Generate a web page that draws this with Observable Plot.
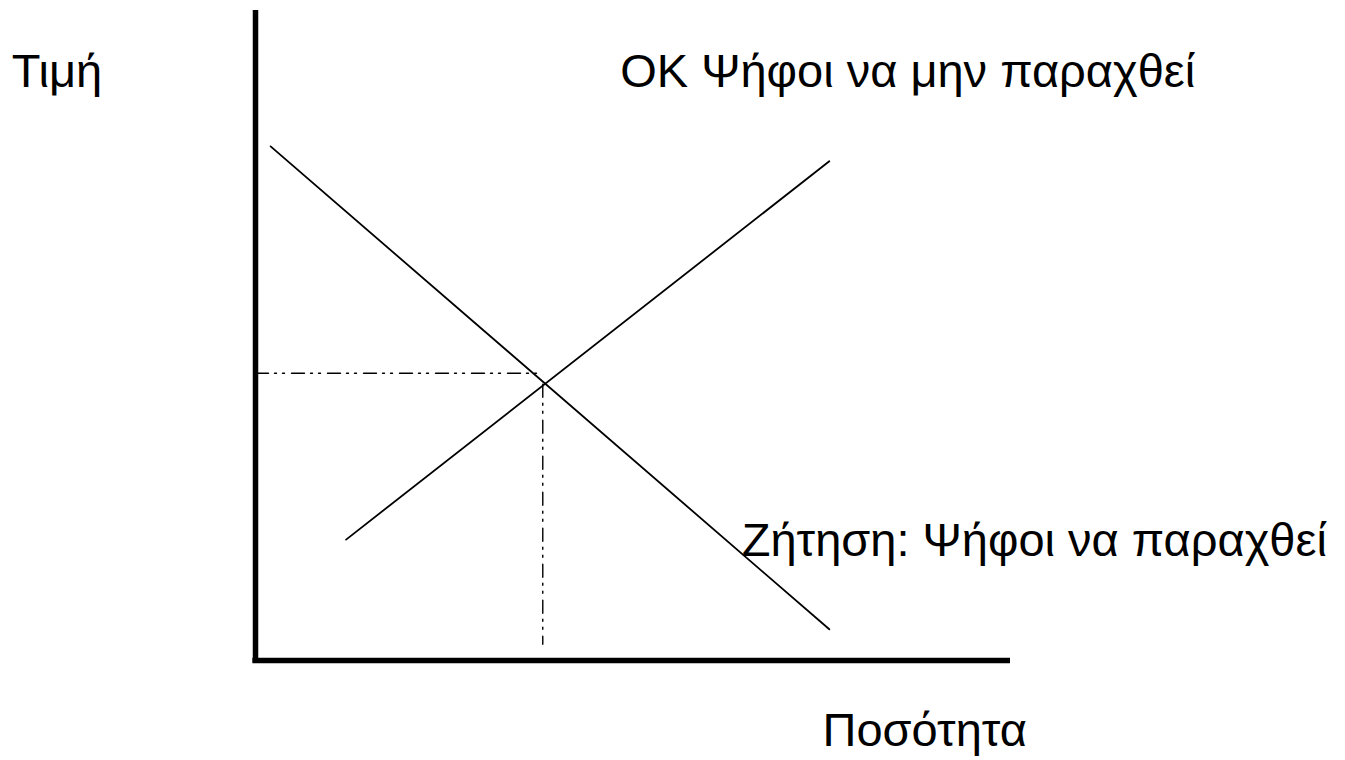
<!DOCTYPE html>
<html>
<head>
<meta charset="utf-8">
<script src="https://cdn.jsdelivr.net/npm/d3@7"></script>
<script src="https://cdn.jsdelivr.net/npm/@observablehq/plot@0.6"></script>
<style>
  html, body { margin: 0; padding: 0; background: #fff; }
  svg { display: block; }
</style>
</head>
<body>
<div id="chart"></div>
<script>
// Quantity (x) and price (y) in abstract units, 0..100
const demandQ = [2, 76];
const demandP = [79.1, 4.8];
const supplyQ = [12, 76];
const supplyP = [18.6, 76.8];
const eqPriceLineQ = [0, 37.7];
const eqPriceLineP = [44.2, 44.2];
const eqQtyLineQ = [38.05, 38.05];
const eqQtyLineP = [42.5, 2.5];
const axisQ = [-0.35, 100];
const axisP = [-0.35, 100];
const labelText = ["Τιμή", "ΟΚ Ψήφοι να μην παραχθεί", "Ζήτηση: Ψήφοι να παραχθεί", "Ποσότητα"];
const labelQ = [-32.3, 48.3, 64.4, 75.1];
const labelP = [88.2, 88.2, 16.15, -13.2];

const pts = (xs, ys) => xs.map((x, i) => ({x, y: ys[i]}));
const labels = labelText.map((t, i) => ({t, x: labelQ[i], y: labelP[i]}));

const chart = Plot.plot({
  width: 1345,
  height: 760,
  margin: 0,
  style: {fontFamily: "'Liberation Sans', Arial, sans-serif", background: "#fff"},
  x: {domain: [0, 100], range: [255, 1010], axis: null},
  y: {domain: [0, 100], range: [660, 10], axis: null},
  marks: [
    Plot.line(pts(eqPriceLineQ, eqPriceLineP), {x: "x", y: "y", stroke: "#000", strokeWidth: 1.4, strokeDasharray: "13,6,2,6,2,7"}),
    Plot.line(pts(eqQtyLineQ, eqQtyLineP), {x: "x", y: "y", stroke: "#000", strokeWidth: 1.4, strokeDasharray: "13,6,2,6,2,7"}),
    Plot.line(pts(demandQ, demandP), {x: "x", y: "y", stroke: "#000", strokeWidth: 1.8}),
    Plot.line(pts(supplyQ, supplyP), {x: "x", y: "y", stroke: "#000", strokeWidth: 1.8}),
    Plot.ruleX([0], {y1: axisP[0], y2: axisP[1], stroke: "#000", strokeWidth: 5.5}),
    Plot.ruleY([0], {x1: axisQ[0], x2: axisQ[1], stroke: "#000", strokeWidth: 5.5}),
    Plot.text(labels, {x: "x", y: "y", text: "t", textAnchor: "start", lineAnchor: "bottom", fontSize: 47, fill: "#000"})
  ]
});
document.getElementById("chart").appendChild(chart);
</script>
</body>
</html>
